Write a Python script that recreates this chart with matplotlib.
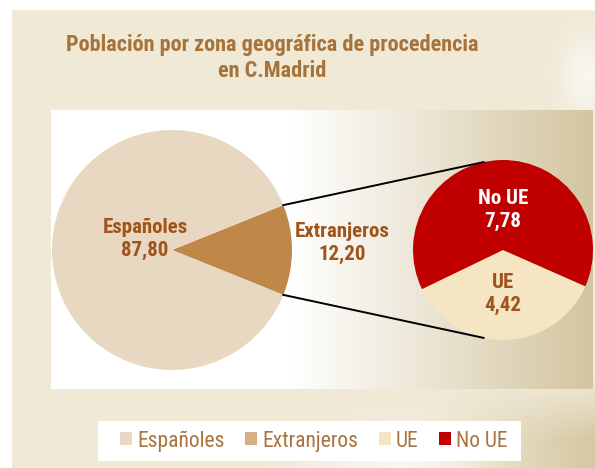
import numpy as np
import matplotlib
matplotlib.use("Agg")
import matplotlib.pyplot as plt
from matplotlib.patches import Rectangle

# data
main_labels = ["Extranjeros", "Españoles"]
main_values = [12.20, 87.80]
sub_labels = ["UE", "No UE"]
sub_values = [4.42, 7.78]
legend_labels = ["Españoles", "Extranjeros", "UE", "No UE"]

title = "Población por zona geográfica de procedencia\nen C.Madrid"

# colours
c_esp = "#e8d7c1"
c_ext = "#c08848"
c_ext_legend = "#d6b083"
c_ue = "#f5e5c3"
c_noue = "#c00000"
c_label = "#a0531b"
c_title = "#a8733a"
c_legtext = "#a87440"

plt.rcParams["font.family"] = ["Roboto Condensed", "DejaVu Sans"]

W, H = 595, 468
fig = plt.figure(figsize=(W / 100, H / 100), dpi=100)
ax = fig.add_axes([0, 0, 1, 1])


def hex2rgb(h):
    return np.array(matplotlib.colors.to_rgb(h))


# outer background (beige with light glows)
base = hex2rgb("#efe9d6")
tan = hex2rgb("#d5c7a2")
yy, xx = np.mgrid[0:458, 0:583]
px = xx + 12
py = yy + 10
img = np.ones((458, 583, 3)) * base
t = np.clip((px - 420) / 175, 0, 1) * np.clip((py - 380) / 60, 0, 1)
img = img * (1 - t[..., None]) + tan * t[..., None]
g1 = np.exp(-(((px - 400) / 90) ** 2 + ((py - 468) / 40) ** 2))
g2 = np.exp(-(((px - 585) / 25) ** 2 + ((py - 75) / 40) ** 2))
g = np.clip(g1 * 0.6 + g2 * 0.6, 0, 1)
img = img * (1 - g[..., None]) + g[..., None]
ax.imshow(img, extent=(12, 595, 0, 458), origin="upper", zorder=0, interpolation="bilinear")

# inner panel: white to tan horizontal gradient
xs = np.arange(51, 593)
tt = np.clip((xs - 290) / (593 - 290), 0, 1)
row = np.ones((len(xs), 3)) * (1 - tt[:, None]) + hex2rgb("#d3c5a0") * tt[:, None]
panel = np.repeat(row[None, :, :], 2, axis=0)
ax.imshow(panel, extent=(51, 593, H - 389, H - 110), origin="upper", zorder=1,
          aspect="auto", interpolation="bilinear")

# main pie
c1 = (172, H - 250)
r1 = 120
ext_half = main_values[0] / sum(main_values) * 360 / 2
ax.pie(main_values, colors=[c_ext, c_esp], startangle=-ext_half, center=c1,
       radius=r1, wedgeprops=dict(linewidth=0, zorder=3), frame=True)

# sub pie
c2 = (503, H - 250)
r2 = 90
ue_half = sub_values[0] / sum(sub_values) * 360 / 2
ax.pie(sub_values, colors=[c_ue, c_noue], startangle=271 - ue_half, center=c2,
       radius=r2, wedgeprops=dict(linewidth=0, zorder=3), frame=True)

# connecting lines
for a1, a2 in [(ext_half, 102.5), (-ext_half, 257.5)]:
    p1 = (c1[0] + r1 * np.cos(np.radians(a1)), c1[1] + r1 * np.sin(np.radians(a1)))
    p2 = (c2[0] + r2 * np.cos(np.radians(a2)), c2[1] + r2 * np.sin(np.radians(a2)))
    ax.plot([p1[0], p2[0]], [p1[1], p2[1]], color="black", lw=1.4, zorder=4)


def fmt(v):
    return f"{v:.2f}".replace(".", ",")


lab_kw = dict(ha="center", va="center", fontsize=15, fontweight="bold",
              linespacing=1.2, zorder=5)
ax.text(145, H - 239, f"Españoles\n{fmt(main_values[1])}", color=c_label, **lab_kw)
ax.text(342, H - 243, f"Extranjeros\n{fmt(main_values[0])}", color=c_label, **lab_kw)
ax.text(503, H - 210, f"No UE\n{fmt(sub_values[1])}", color="white", **lab_kw)
ax.text(503, H - 294, f"UE\n{fmt(sub_values[0])}", color=c_label, **lab_kw)

# title
ax.text(272, H - 58, title, ha="center", va="center", fontsize=16,
        fontweight="bold", color=c_title, linespacing=1.2, zorder=5)

# legend
ax.add_patch(Rectangle((98, H - 461), 423, 40, facecolor="white", edgecolor="none", zorder=2))
handles = [Rectangle((0, 0), 1, 1, facecolor=c, edgecolor="none")
           for c in [c_esp, c_ext_legend, c_ue, c_noue]]
leg = ax.legend(handles, legend_labels, ncol=4, loc="center",
                bbox_to_anchor=(314, H - 441), bbox_transform=ax.transData,
                frameon=False, fontsize=15.5, handlelength=0.55, handleheight=0.55,
                handletextpad=0.25, columnspacing=0.95, borderpad=0)
for txt in leg.get_texts():
    txt.set_color(c_legtext)
leg.set_zorder(6)

ax.set_xlim(0, W)
ax.set_ylim(0, H)
ax.set_aspect("auto")
ax.axis("off")

fig.savefig("out.png", dpi=100, facecolor="white")
